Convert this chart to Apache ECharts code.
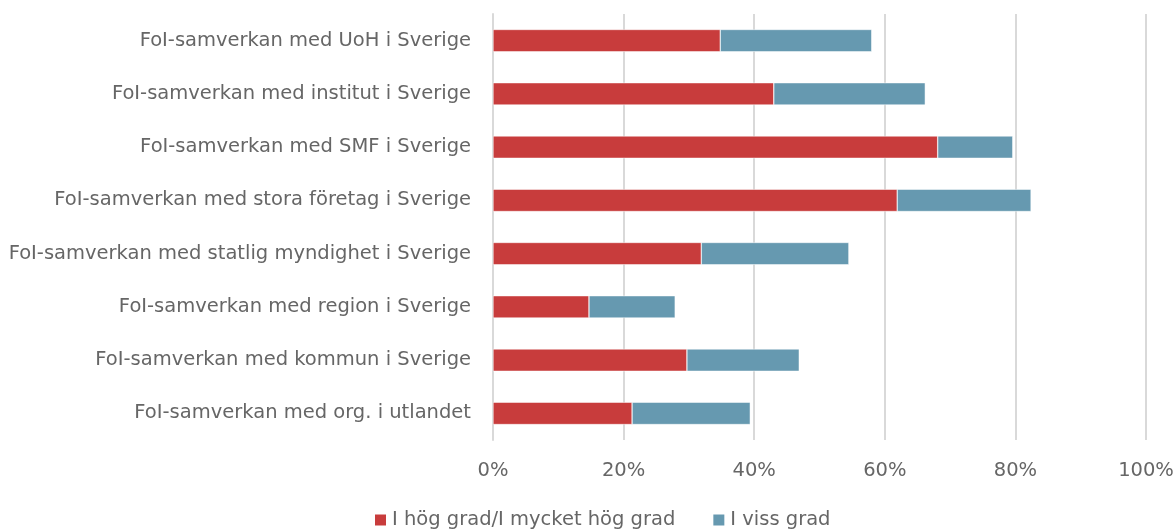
<!DOCTYPE html>
<html>
<head>
<meta charset="utf-8">
<script src="https://cdn.jsdelivr.net/npm/echarts@6/dist/echarts.min.js"></script>
<style>
  html, body { margin: 0; padding: 0; background: #fff; }
  #main { width: 1174px; height: 531px; }
</style>
</head>
<body>
<div id="main"></div>
<script>
// kategorier, nedifrån och upp som i bilden
var categories = [
  'FoI-samverkan med org. i utlandet',
  'FoI-samverkan med kommun i Sverige',
  'FoI-samverkan med region i Sverige',
  'FoI-samverkan med statlig myndighet i Sverige',
  'FoI-samverkan med stora företag i Sverige',
  'FoI-samverkan med SMF i Sverige',
  'FoI-samverkan med institut i Sverige',
  'FoI-samverkan med UoH i Sverige'
];
var hogGrad = [21.3, 29.7, 14.7, 31.9, 61.9, 68.1, 43.0, 34.8];
var vissGrad = [18.1, 17.2, 13.2, 22.6, 20.5, 11.5, 23.2, 23.2];
var seriesNames = ['I hög grad/I mycket hög grad', 'I viss grad'];
var tickValues = [0, 20, 40, 60, 80, 100];

var font = '"DejaVu Sans", sans-serif';
var txtColor = '#666666';
var fs = 19.5;
var myChart = echarts.init(document.getElementById('main'));
myChart.setOption({
  textStyle: { fontFamily: font },
  grid: { left: 493, right: 28, top: 14, bottom: 91, containLabel: false, outerBoundsMode: 'none' },
  legend: {
    bottom: -4,
    left: 368,
    icon: 'rect',
    itemWidth: 13,
    itemHeight: 13,
    itemGap: 36,
    textStyle: { color: txtColor, fontSize: fs, fontFamily: font },
    data: seriesNames
  },
  xAxis: {
    type: 'value',
    min: tickValues[0],
    max: tickValues[tickValues.length - 1],
    interval: 20,
    axisLine: { show: false },
    axisTick: { show: false },
    splitLine: { lineStyle: { color: '#d9d9d9', width: 2 } },
    axisLabel: {
      color: txtColor, fontSize: fs, margin: 21, fontFamily: font,
      formatter: function (v) { return v + '%'; }
    }
  },
  yAxis: {
    type: 'category',
    data: categories,
    axisLine: { show: true, lineStyle: { color: '#d9d9d9', width: 2 } },
    axisTick: { show: false },
    axisLabel: { color: txtColor, fontSize: fs, margin: 22, fontFamily: font }
  },
  series: [
    {
      name: seriesNames[0], type: 'bar', stack: 'tot', data: hogGrad,
      barWidth: '42%',
      itemStyle: { color: '#c83c3c', borderColor: '#fff', borderWidth: 0.5 }
    },
    {
      name: seriesNames[1], type: 'bar', stack: 'tot', data: vissGrad,
      barWidth: '42%',
      itemStyle: { color: '#6699b0', borderColor: '#fff', borderWidth: 0.5 }
    }
  ]
});
</script>
</body>
</html>
